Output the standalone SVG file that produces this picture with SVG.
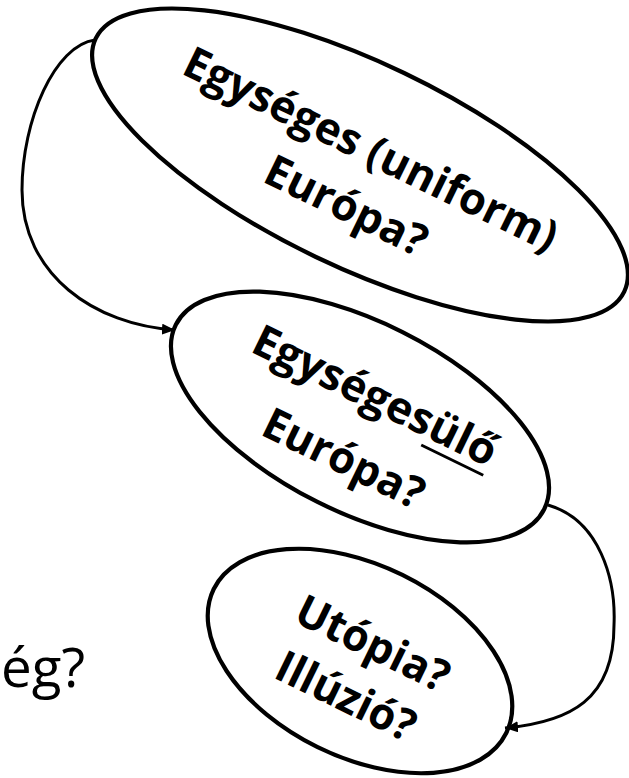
<svg xmlns="http://www.w3.org/2000/svg" width="629" height="778" viewBox="0 0 629 778">
<style>
.node{fill:#fff;stroke:#000;stroke-width:4.2}
.lbl{font-family:"Open Sans","Noto Sans","Liberation Sans",sans-serif;font-weight:700;font-size:44px;fill:#000}
.conn{fill:none;stroke:#000;stroke-width:3}
.side{font-family:"Open Sans","Noto Sans","Liberation Sans",sans-serif;font-weight:400;font-size:54px;fill:#000}
</style>
<defs>
<marker id="arr" markerUnits="userSpaceOnUse" markerWidth="15" markerHeight="12" refX="13" refY="5.5" orient="auto">
<path d="M0,0 L13,5.5 L0,11 z" fill="#000"/>
</marker>
</defs>
<rect width="629" height="778" fill="#fff"/>
<g id="side-text">
<text class="side" x="1" y="687" textLength="84" lengthAdjust="spacingAndGlyphs">ég?</text>
</g>
<g id="node-egyseges">
<ellipse class="node" cx="360" cy="165" rx="293" ry="102" transform="rotate(25.6 360 165)"/>
<text class="lbl" transform="translate(180 73) rotate(26)" textLength="410" lengthAdjust="spacingAndGlyphs">Egységes (uniform)</text>
<text class="lbl" transform="translate(261 181) rotate(26)" textLength="175" lengthAdjust="spacingAndGlyphs">Európa?</text>
</g>
<g id="node-egysegesulo">
<ellipse class="node" cx="360" cy="417" rx="206" ry="95" transform="rotate(26.6 360 417)"/>
<g transform="translate(249 351) rotate(26)">
<text class="lbl" x="0" y="0" textLength="266" lengthAdjust="spacingAndGlyphs">Egységesülő</text>
<line x1="196" y1="9" x2="265" y2="9" stroke="#000" stroke-width="3"/>
</g>
<text class="lbl" transform="translate(259 434) rotate(26)" textLength="174" lengthAdjust="spacingAndGlyphs">Európa?</text>
</g>
<g id="node-utopia">
<ellipse class="node" cx="360" cy="661" rx="163" ry="96" transform="rotate(26.2 360 661)"/>
<text class="lbl" transform="translate(292 621) rotate(26)" textLength="165" lengthAdjust="spacingAndGlyphs">Utópia?</text>
<text class="lbl" transform="translate(272 677) rotate(26)" textLength="150" lengthAdjust="spacingAndGlyphs">Illúzió?</text>
</g>
<g id="connectors">
<path class="conn" d="M95,40 C55,45 22,120 22,190 C22,275 95,325 175,330" marker-end="url(#arr)"/>
<path class="conn" d="M548,505 C600,520 616,580 614,625 C614,700 570,722 505,728" marker-end="url(#arr)"/>
</g>
</svg>
